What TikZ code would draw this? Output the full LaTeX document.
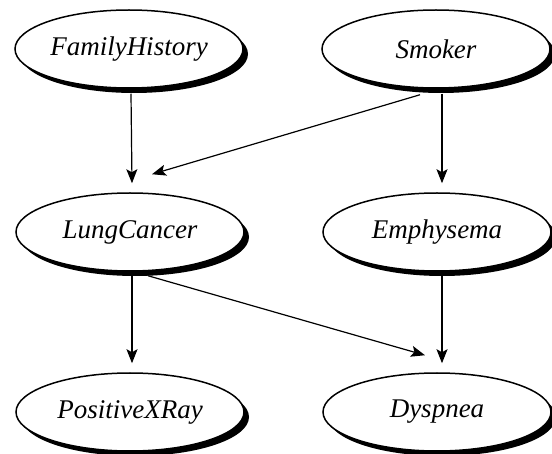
\documentclass[tikz,border=0pt]{standalone}
\usepackage{fontspec}
\setmainfont{Liberation Serif}
\usetikzlibrary{shapes.geometric,shadows,arrows.meta,calc}
\tikzset{
  bnode/.style={ellipse, draw=black, line width=1.5pt, fill=white,
    minimum width=228pt, minimum height=78pt, inner sep=0pt,
    font=\fontsize{27}{31}\selectfont\itshape,
    drop shadow={shadow xshift=5pt, shadow yshift=-5pt, opacity=1, fill=black}},
  edge/.style={line width=1.2pt, -{Stealth[length=14pt,width=11pt,inset=3pt]}}
}
\begin{document}
\begin{tikzpicture}[x=1pt,y=-1pt]
\useasboundingbox (0,0) rectangle (552,454);
\node[bnode] (fh) at (129,49) {FamilyHistory};
\node[bnode] (sm) at (436,49) {Smoker};
\node[bnode] (lc) at (130,232) {LungCancer};
\node[bnode] (em) at (437,232) {Emphysema};
\node[bnode] (px) at (130,412) {PositiveXRay};
\node[bnode] (dy) at (437,412) {Dyspnea};
\coordinate (fhs) at ($(fh.south)+(2,5)$);
\coordinate (lcn) at ($(lc.north)+(2,-9)$);
\coordinate (sms) at ($(sm.south)+(-16,6)$);
\coordinate (lcd) at ($(lc.north)+(22,-18)$);
\coordinate (sms2) at ($(sm.south)+(6,5)$);
\coordinate (emn) at ($(em.north)+(5,-9)$);
\coordinate (lcs) at ($(lc.south)+(2,4)$);
\coordinate (lcs2) at ($(lc.south)+(18,4)$);
\coordinate (pxn) at ($(px.north)+(2,-9)$);
\coordinate (dyd) at ($(dy.north)+(-12,-17)$);
\coordinate (ems) at ($(em.south)+(5,4)$);
\coordinate (dyn) at ($(dy.north)+(5,-9)$);
\draw[edge] (fhs) -- (lcn);
\draw[edge] (sms) -- (lcd);
\draw[edge] (sms2) -- (emn);
\draw[edge] (lcs) -- (pxn);
\draw[edge] (lcs2) -- (dyd);
\draw[edge] (ems) -- (dyn);
\end{tikzpicture}
\end{document}
